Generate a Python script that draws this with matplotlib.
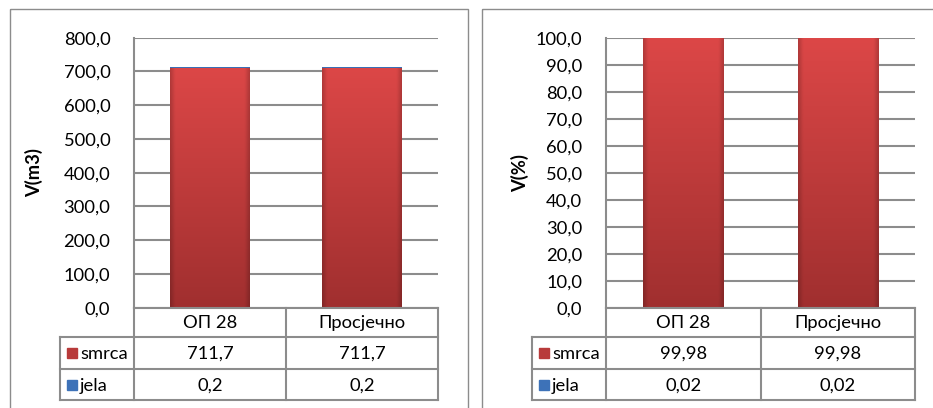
import numpy as np
import matplotlib
matplotlib.use("Agg")
import matplotlib.pyplot as plt
from matplotlib.lines import Line2D
from matplotlib.patches import Rectangle

# ---------------- data ----------------
categories = ["ОП 28", "Просјечно"]
series_names = ["smrca", "jela"]
smrca_m3 = [711.7, 711.7]
jela_m3 = [0.2, 0.2]
smrca_pct = [99.98, 99.98]
jela_pct = [0.02, 0.02]
ylabel_left = "V(m3)"
ylabel_right = "V(%)"
yticks_left = [0, 100, 200, 300, 400, 500, 600, 700, 800]
yticks_right = [0, 10, 20, 30, 40, 50, 60, 70, 80, 90, 100]

W, H = 933, 408
plt.rcParams['font.family'] = ['Lato', 'DejaVu Sans']
FS = 13.2
GRID = '#8c8c8c'

fig = plt.figure(figsize=(W / 100, H / 100), dpi=100)
fig.patch.set_facecolor('white')

overlay = fig.add_axes([0, 0, 1, 1], zorder=10)
overlay.set_xlim(0, W)
overlay.set_ylim(H, 0)
overlay.axis('off')
overlay.patch.set_alpha(0)

def px_axes(x0, x1, y0, y1):
    return fig.add_axes([x0 / W, 1 - y1 / H, (x1 - x0) / W, (y1 - y0) / H])

def fmt(v, d):
    return f"{v:.{d}f}".replace('.', ',')

def gradient_bars(ax, bars, top, bottom):
    top = np.array(matplotlib.colors.to_rgb(top))
    bottom = np.array(matplotlib.colors.to_rgb(bottom))
    ny, nx = 200, 60
    t = np.linspace(0, 1, ny)[:, None, None]
    base = top * (1 - t) + bottom * t
    xs = np.linspace(0, 1, nx)
    edge = 1 - 0.18 * (np.clip(1 - np.minimum(xs, 1 - xs) / 0.06, 0, 1))
    img = base * edge[None, :, None]
    for b in bars:
        x0, y0, w, h = b.get_x(), b.get_y(), b.get_width(), b.get_height()
        if h <= 0:
            continue
        im = ax.imshow(img, extent=[x0, x0 + w, y0, y0 + h], aspect='auto',
                       origin='upper', zorder=3, interpolation='bilinear')
        im.set_clip_path(b)

def panel(box, ax_x0, ax_x1, lab_x0, s1, s2, ticks, ylabel, ylabel_x, dec_tick, dec_tab, ymax):
    # outer panel border
    bx0, by0, bx1, by1 = box
    overlay.add_patch(Rectangle((bx0, by0), bx1 - bx0, by1 - by0, fill=False,
                                edgecolor='#8c8c8c', lw=1.0))
    y_top, y_bot = 37.7, 307.7
    ax = px_axes(ax_x0, ax_x1, y_top, y_bot)
    x = np.arange(len(categories))
    bars = ax.bar(x, s1, width=0.52, color='#c43c3c', zorder=3, edgecolor='none')
    bars2 = ax.bar(x, s2, width=0.52, bottom=s1, color='#3a6fb5', zorder=3, edgecolor='none')
    gradient_bars(ax, bars, '#dc4747', '#a02f2f')
    ax.set_xlim(-0.5, len(categories) - 0.5)
    ax.set_ylim(0, ymax)
    ax.set_yticks(ticks)
    ax.set_yticklabels([fmt(t, dec_tick) for t in ticks], fontsize=FS)
    ax.tick_params(axis='y', length=0, pad=17)
    ax.set_xticks([])
    for s in ['top', 'right', 'bottom']:
        ax.spines[s].set_visible(False)
    ax.spines['left'].set_color(GRID)
    ax.spines['left'].set_linewidth(1.5)
    ax.yaxis.grid(True, color=GRID, lw=1.5, zorder=0)
    ax.set_axisbelow(True)
    ax.set_ylabel(ylabel, fontsize=FS, fontweight='bold')
    ax.yaxis.set_label_coords((ylabel_x - ax_x0) / (ax_x1 - ax_x0), 0.5)

    # data table
    r0, r1, r2, r3 = 307.7, 337.0, 369.0, 400.0
    mid = (ax_x0 + ax_x1) / 2
    lw = 1.5
    overlay.add_line(Line2D([ax_x0, ax_x1], [r0, r0], color=GRID, lw=lw))
    for yy in (r1, r2, r3):
        overlay.add_line(Line2D([lab_x0, ax_x1], [yy, yy], color=GRID, lw=lw))
    overlay.add_line(Line2D([lab_x0, lab_x0], [r1, r3], color=GRID, lw=lw))
    for xx in (ax_x0, mid, ax_x1):
        overlay.add_line(Line2D([xx, xx], [r0, r3], color=GRID, lw=lw))
    cols = [(ax_x0 + mid) / 2, (mid + ax_x1) / 2]
    for i, c in enumerate(categories):
        overlay.text(cols[i], (r0 + r1) / 2 + 1, c, ha='center', va='center', fontsize=FS)
    for i in range(len(categories)):
        overlay.text(cols[i], (r1 + r2) / 2 + 1, fmt(s1[i], dec_tab), ha='center', va='center', fontsize=FS)
        overlay.text(cols[i], (r2 + r3) / 2 + 1, fmt(s2[i], dec_tab), ha='center', va='center', fontsize=FS)
    for (ya, yb), name, col in [((r1, r2), series_names[0], '#b83a3a'),
                                 ((r2, r3), series_names[1], '#3d72b8')]:
        yc = (ya + yb) / 2
        overlay.add_patch(Rectangle((lab_x0 + 7, yc - 5), 10, 10, color=col))
        overlay.text(lab_x0 + 20, yc + 1, name, ha='left', va='center', fontsize=FS)
    return ax

panel((10, 9, 468, 420), 134, 438, 60, smrca_m3, jela_m3, yticks_left,
      ylabel_left, 43, 1, 1, 800)
panel((482, 9, 945, 420), 606, 915, 532, smrca_pct, jela_pct, yticks_right,
      ylabel_right, 529, 1, 2, 100)

fig.savefig('out.png', dpi=100, facecolor='white')
